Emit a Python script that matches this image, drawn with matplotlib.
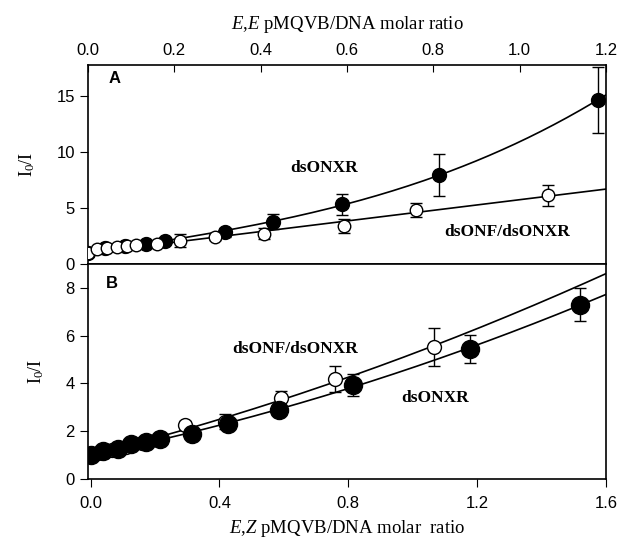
import matplotlib
matplotlib.use("Agg")
import matplotlib.pyplot as plt
import numpy as np

plt.rcParams['font.family'] = ['Liberation Sans', 'DejaVu Sans']
plt.rcParams['mathtext.fontset'] = 'custom'
plt.rcParams['mathtext.rm'] = 'Liberation Serif'
plt.rcParams['mathtext.it'] = 'Liberation Serif:italic'
plt.rcParams['mathtext.bf'] = 'Liberation Serif:bold'

# panel A (E,E isomer, top axis)
a_xr_x = [0, 0.04, 0.086, 0.134, 0.179, 0.318, 0.428, 0.589, 0.814, 1.182]
a_xr_y = [1.0, 1.4, 1.6, 1.82, 2.1, 2.86, 3.79, 5.33, 7.95, 14.7]
a_xr_err = [0.05, 0.1, 0.12, 0.18, 0.25, 0.4, 0.65, 0.95, 1.9, 2.95]

a_nf_x = [0, 0.022, 0.043, 0.067, 0.09, 0.111, 0.159, 0.212, 0.295, 0.408, 0.592, 0.761, 1.066]
a_nf_y = [1.0, 1.31, 1.46, 1.55, 1.6, 1.67, 1.76, 2.1, 2.41, 2.7, 3.4, 4.82, 6.16]
a_nf_err = [0.0, 0.1, 0.1, 0.12, 0.15, 0.15, 0.2, 0.55, 0.3, 0.5, 0.6, 0.6, 0.95]

# panel B (E,Z isomer, bottom axis)
b_xr_x = [0, 0.039, 0.086, 0.127, 0.171, 0.215, 0.316, 0.427, 0.584, 0.814, 1.179, 1.519]
b_xr_y = [1.0, 1.19, 1.25, 1.47, 1.56, 1.66, 1.89, 2.29, 2.89, 3.94, 5.44, 7.3]
b_xr_err = [0.05, 0.05, 0.05, 0.06, 0.08, 0.1, 0.12, 0.15, 0.2, 0.45, 0.6, 0.7]

b_nf_x = [0, 0.022, 0.043, 0.067, 0.09, 0.111, 0.159, 0.212, 0.292, 0.416, 0.592, 0.76, 1.065]
b_nf_y = [1.0, 1.1, 1.15, 1.2, 1.3, 1.35, 1.5, 1.62, 2.24, 2.4, 3.38, 4.18, 5.52]
b_nf_err = [0.0, 0.05, 0.05, 0.05, 0.05, 0.06, 0.08, 0.1, 0.2, 0.32, 0.32, 0.55, 0.78]


def sv_fit(x, y, deg, xmax):
    # I0/I = 1 + a x + b x^2 (+ c x^3), intercept fixed at 1
    x = np.asarray(x, float)
    y = np.asarray(y, float)
    A = np.column_stack([x ** k for k in range(1, deg + 1)])
    coef = np.linalg.lstsq(A, y - 1, rcond=None)[0]
    xs = np.linspace(0, xmax, 200)
    ys = 1 + sum(c * xs ** (k + 1) for k, c in enumerate(coef))
    return xs, ys


fig = plt.figure(figsize=(6.25, 5.43), dpi=100)
axA = fig.add_axes([0.1408, 0.5138, 0.8288, 0.3665])
axB = fig.add_axes([0.1408, 0.1179, 0.8288, 0.3959])

filled = dict(fmt='o', color='black', mfc='black', mec='black', capsize=4,
              elinewidth=1, capthick=1)
hollow = dict(fmt='o', color='black', mfc='white', mec='black', mew=1,
              capsize=4, elinewidth=1, capthick=1)

# --- panel A
xs, ys = sv_fit(a_xr_x, a_xr_y, 3, 1.2)
axA.plot(xs, ys, color='black', lw=1.2)
xs, ys = sv_fit(a_nf_x, a_nf_y, 1, 1.2)
axA.plot(xs, ys, color='black', lw=1.2)
axA.errorbar(a_xr_x, a_xr_y, yerr=a_xr_err, ms=10, zorder=3, **filled)
axA.errorbar(a_nf_x, a_nf_y, yerr=a_nf_err, ms=9, zorder=4, **hollow)
axA.set_xlim(0, 1.2)
axA.set_ylim(0, 17.8)
axA.set_xticks([0, 0.2, 0.4, 0.6, 0.8, 1.0, 1.2])
axA.set_xticklabels(['0.0', '0.2', '0.4', '0.6', '0.8', '1.0', '1.2'])
axA.set_yticks([0, 5, 10, 15])
axA.xaxis.tick_top()
axA.xaxis.set_label_position('top')
axA.tick_params(axis='x', direction='in', length=5, labelsize=12, pad=5)
axA.tick_params(axis='y', direction='out', length=6, labelsize=12)
axA.set_xlabel(r'$E$,$E$ pMQVB/DNA molar ratio', fontsize=13.5,
               family='Liberation Serif', labelpad=10)
axA.set_ylabel(r'I$_0$/I', fontsize=13, family='Liberation Serif', labelpad=14)
axA.text(0.04, 0.93, 'A', transform=axA.transAxes, fontsize=12,
         fontweight='bold', ha='left', va='center')
axA.text(0.455, 0.48, 'dsONXR', transform=axA.transAxes, fontsize=12.5,
         fontweight='bold', family='Liberation Serif', ha='center', va='center')
axA.text(0.81, 0.16, 'dsONF/dsONXR', transform=axA.transAxes, fontsize=12.5,
         fontweight='bold', family='Liberation Serif', ha='center', va='center')

# --- panel B
xs, ys = sv_fit(b_nf_x, b_nf_y, 2, 1.6)
axB.plot(xs, ys, color='black', lw=1.2)
xs, ys = sv_fit(b_xr_x, b_xr_y, 2, 1.6)
axB.plot(xs, ys, color='black', lw=1.2)
axB.errorbar(b_nf_x, b_nf_y, yerr=b_nf_err, ms=10, zorder=3, **hollow)
axB.errorbar(b_xr_x, b_xr_y, yerr=b_xr_err, ms=13, zorder=4, **filled)
axB.set_xlim(-0.008, 1.6)
axB.set_ylim(0, 9)
axB.set_xticks([0, 0.4, 0.8, 1.2, 1.6])
axB.set_xticklabels(['0.0', '0.4', '0.8', '1.2', '1.6'])
axB.set_yticks([0, 2, 4, 6, 8])
axB.tick_params(axis='both', direction='out', length=6, labelsize=12)
axB.tick_params(axis='x', pad=6)
axB.set_xlabel(r'$E$,$Z$ pMQVB/DNA molar  ratio', fontsize=13.5,
               family='Liberation Serif', labelpad=5)
axB.set_ylabel(r'I$_0$/I', fontsize=13, family='Liberation Serif', labelpad=14)
axB.text(0.035, 0.91, 'B', transform=axB.transAxes, fontsize=12,
         fontweight='bold', ha='left', va='center')
axB.text(0.40, 0.605, 'dsONF/dsONXR', transform=axB.transAxes, fontsize=12.5,
         fontweight='bold', family='Liberation Serif', ha='center', va='center')
axB.text(0.67, 0.375, 'dsONXR', transform=axB.transAxes, fontsize=12.5,
         fontweight='bold', family='Liberation Serif', ha='center', va='center')

for ax in (axA, axB):
    for s in ax.spines.values():
        s.set_linewidth(1.2)
    for lab in ax.get_xticklabels() + ax.get_yticklabels():
        lab.set_family('Liberation Sans')

fig.savefig('out.png', dpi=100)
